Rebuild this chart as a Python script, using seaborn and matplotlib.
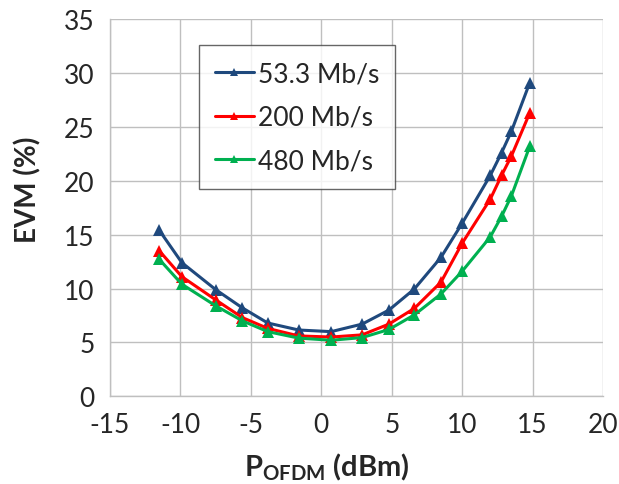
import matplotlib
matplotlib.use("Agg")
import matplotlib.pyplot as plt
import seaborn as sns
import pandas as pd

# EVM vs OFDM power
p_ofdm = [-11.5, -9.9, -7.5, -5.6, -3.8, -1.6, 0.7, 2.9, 4.8, 6.6, 8.5, 10.0, 12.0, 12.8, 13.5, 14.8]
evm_53 = [15.4, 12.4, 9.9, 8.2, 6.8, 6.15, 6.0, 6.7, 8.0, 9.95, 12.9, 16.05, 20.5, 22.6, 24.6, 29.1]
evm_200 = [13.5, 11.1, 8.95, 7.3, 6.3, 5.6, 5.5, 5.7, 6.7, 8.15, 10.6, 14.2, 18.3, 20.5, 22.3, 26.3]
evm_480 = [12.7, 10.4, 8.4, 7.0, 6.0, 5.4, 5.2, 5.45, 6.2, 7.55, 9.5, 11.6, 14.8, 16.7, 18.6, 23.2]
rates = ["53.3 Mb/s", "200 Mb/s", "480 Mb/s"]
colors = ["#1F497D", "#FF0000", "#00B050"]

df = pd.concat([
    pd.DataFrame({"P": p_ofdm, "EVM": v, "rate": r})
    for v, r in zip([evm_53, evm_200, evm_480], rates)
])

sns.set_style("white")
plt.rcParams["font.family"] = ["Lato", "DejaVu Sans"]
plt.rcParams["mathtext.default"] = "regular"
plt.rcParams["axes.unicode_minus"] = False

fig = plt.figure(figsize=(6.19, 4.85), dpi=100)
ax = fig.add_axes([0.1777, 0.1808, 0.7965, 0.7779])

sns.lineplot(data=df, x="P", y="EVM", hue="rate", hue_order=rates,
             palette=dict(zip(rates, colors)), marker="^", markersize=8.5,
             markeredgewidth=0, linewidth=2.2, dashes=False, ax=ax,
             sort=False, estimator=None)

grid_c = "#BFBFBF"
ax.set_xlim(-15, 20)
ax.set_ylim(0, 35)
ax.set_xticks(range(-15, 21, 5))
ax.set_yticks(range(0, 36, 5))
ax.grid(True, color=grid_c, linewidth=1)
ax.set_axisbelow(True)
for s in ["top", "right"]:
    ax.spines[s].set_visible(False)
for s in ["left", "bottom"]:
    ax.spines[s].set_color(grid_c)
    ax.spines[s].set_linewidth(1)
ax.tick_params(axis="both", which="both", direction="out", length=7,
               width=1, color=grid_c, labelsize=19, pad=4)

ax.set_xlabel(r"P$_{OFDM}$ (dBm)", fontsize=21, fontweight="bold")
ax.set_ylabel("EVM (%)", fontsize=20, fontweight="bold")
ax.xaxis.set_label_coords(0.44, -0.145)
ax.yaxis.set_label_coords(-0.14, 0.55)

leg = ax.legend(loc="upper left", bbox_to_anchor=(0.18, 0.93), fontsize=19,
                frameon=True, fancybox=False, edgecolor="#404040",
                handlelength=1.5, handletextpad=0.15, labelspacing=0.7,
                borderpad=0.6, borderaxespad=0, markerscale=0.75)
leg.get_frame().set_linewidth(1)

fig.savefig("out.png", dpi=100)
